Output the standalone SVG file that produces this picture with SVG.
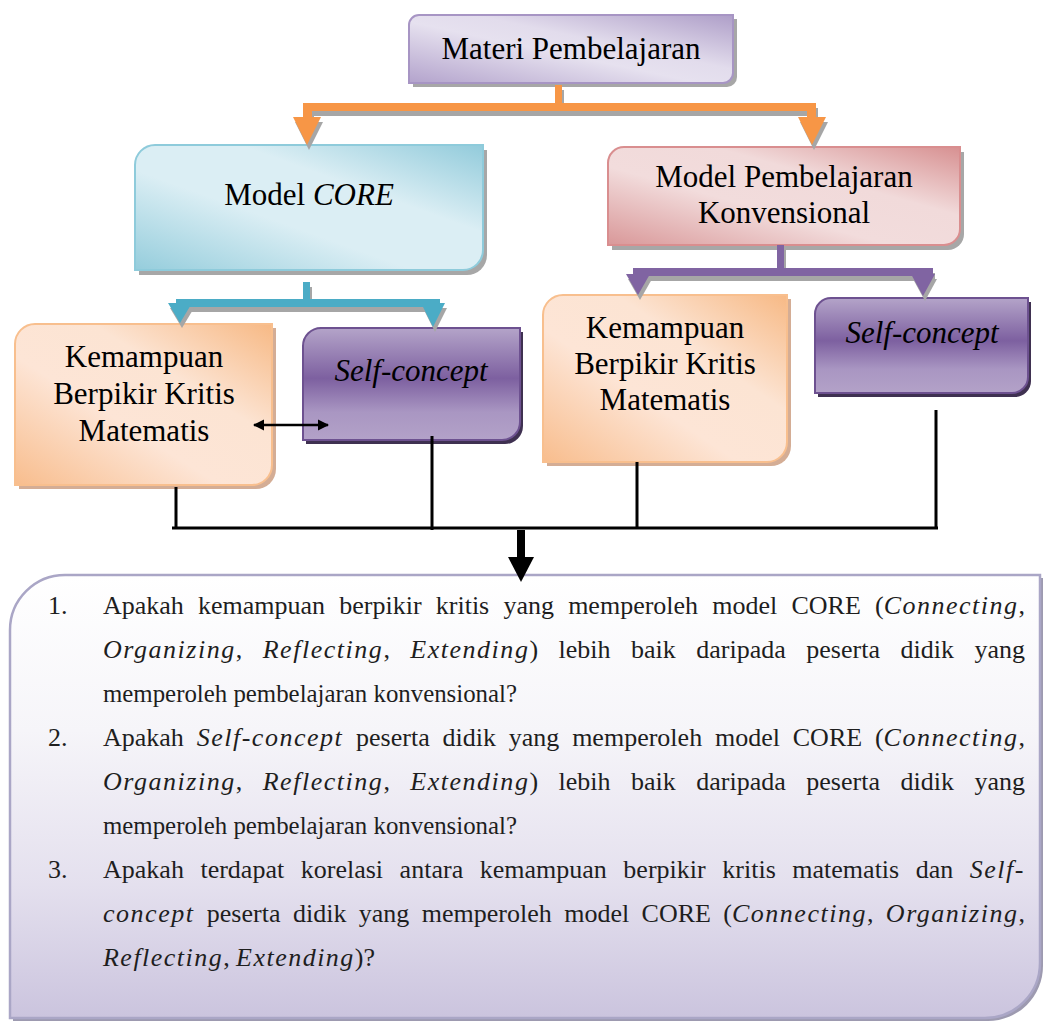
<svg xmlns="http://www.w3.org/2000/svg" width="1045" height="1023" viewBox="0 0 1045 1023">
<style>
.lbl{font-family:"Liberation Serif","Times New Roman",serif;font-size:31px;fill:#000;text-anchor:middle}
.it{font-style:italic}
.q{font-family:"Liberation Serif","Times New Roman",serif;font-size:26px;fill:#1e1e1e}
.q .it{letter-spacing:1.5px}
.num{font-family:"Liberation Serif","Times New Roman",serif;font-size:26px;fill:#1e1e1e}
.blk{stroke:#000;stroke-width:3;fill:none}
.shadow{fill:#8a8a8a;opacity:0.75}
</style>
<defs>
<linearGradient id="gPurpleLight" x1="0" y1="1" x2="1" y2="0">
<stop offset="0" stop-color="#b3a3cc"/><stop offset="0.45" stop-color="#e6e1ef"/><stop offset="0.6" stop-color="#e2dcec"/><stop offset="1" stop-color="#ae9ec8"/>
</linearGradient>
<linearGradient id="gCyan" x1="0" y1="1" x2="1" y2="0">
<stop offset="0" stop-color="#95cddc"/><stop offset="0.4" stop-color="#dbeef4"/><stop offset="0.65" stop-color="#dbeef4"/><stop offset="1" stop-color="#92cbdb"/>
</linearGradient>
<linearGradient id="gPink" x1="0" y1="1" x2="1" y2="0">
<stop offset="0" stop-color="#d99899"/><stop offset="0.4" stop-color="#f2dcdc"/><stop offset="0.65" stop-color="#f1dada"/><stop offset="1" stop-color="#d79091"/>
</linearGradient>
<linearGradient id="gOrange" x1="0" y1="1" x2="1" y2="0">
<stop offset="0" stop-color="#f8bd8d"/><stop offset="0.4" stop-color="#fde5d6"/><stop offset="0.65" stop-color="#fce4d3"/><stop offset="1" stop-color="#f7b985"/>
</linearGradient>
<linearGradient id="gViolet" x1="0" y1="0" x2="0" y2="1">
<stop offset="0" stop-color="#b4a4c9"/><stop offset="0.45" stop-color="#7d60a0"/><stop offset="0.75" stop-color="#a996c2"/><stop offset="1" stop-color="#b3a2c8"/>
</linearGradient>
<linearGradient id="gBottom" x1="0" y1="0" x2="0" y2="1">
<stop offset="0" stop-color="#ffffff"/><stop offset="0.35" stop-color="#f6f5f9"/><stop offset="0.7" stop-color="#e4e0ee"/><stop offset="1" stop-color="#cbc4de"/>
</linearGradient>
<g id="cOrange">
<rect x="555" y="85" width="7" height="22"/>
<rect x="303" y="103" width="513" height="8"/>
<rect x="303" y="103" width="9" height="15"/>
<rect x="807" y="103" width="9" height="15"/>
<polygon points="293,117 321,117 307,145"/>
<polygon points="798,117 826,117 812,145"/>
</g>
<g id="cTeal">
<rect x="303" y="282" width="7" height="21"/>
<rect x="176" y="299" width="264" height="8"/>
<polygon points="168,303 192,303 180,323"/>
<polygon points="421,303 445,303 433,327"/>
</g>
<g id="cPurple">
<rect x="777" y="245" width="7" height="27"/>
<rect x="633" y="268" width="300" height="8"/>
<polygon points="626,274 650,274 638,295"/>
<polygon points="911,274 935,274 923,296"/>
</g>
<marker id="ah" viewBox="0 0 10 10" refX="9" refY="5" markerWidth="4.5" markerHeight="4.5" orient="auto-start-reverse">
<path d="M0,0 L10,5 L0,10 Z" fill="#000"/>
</marker>
</defs>

<g id="node-materi">
<path class="shadow" transform="translate(4,4)" d="M419,15 H733 V73 A10,10 0 0 1 723,83 H409 V25 A10,10 0 0 1 419,15 Z"/>
<path d="M419,15 H733 V73 A10,10 0 0 1 723,83 H409 V25 A10,10 0 0 1 419,15 Z" fill="url(#gPurpleLight)" stroke="#a795c4" stroke-width="2"/>
<text class="lbl" x="571" y="59">Materi Pembelajaran</text>
</g>

<g id="node-core">
<path class="shadow" transform="translate(4,5)" d="M155,145 H483 V250 A20,20 0 0 1 463,270 H135 V165 A20,20 0 0 1 155,145 Z"/>
<path d="M155,145 H483 V250 A20,20 0 0 1 463,270 H135 V165 A20,20 0 0 1 155,145 Z" fill="url(#gCyan)" stroke="#8ecbdb" stroke-width="2"/>
<text class="lbl" x="309" y="205">Model <tspan class="it">CORE</tspan></text>
</g>

<g id="node-konvensional">
<path class="shadow" transform="translate(4,5)" d="M624,147 H960 V229 A16,16 0 0 1 944,245 H608 V163 A16,16 0 0 1 624,147 Z"/>
<path d="M624,147 H960 V229 A16,16 0 0 1 944,245 H608 V163 A16,16 0 0 1 624,147 Z" fill="url(#gPink)" stroke="#d98e8f" stroke-width="2"/>
<text class="lbl" x="784" y="187">Model Pembelajaran</text>
<text class="lbl" x="784" y="223">Konvensional</text>
</g>

<g id="node-kbk1">
<path class="shadow" transform="translate(4,4)" d="M35,324 H272 V465 A20,20 0 0 1 252,485 H15 V344 A20,20 0 0 1 35,324 Z" style="fill:#c9997a;opacity:0.8"/>
<path d="M35,324 H272 V465 A20,20 0 0 1 252,485 H15 V344 A20,20 0 0 1 35,324 Z" fill="url(#gOrange)" stroke="#f8bf8e" stroke-width="2"/>
<text class="lbl" x="144" y="367">Kemampuan</text>
<text class="lbl" x="144" y="404">Berpikir Kritis</text>
<text class="lbl" x="144" y="441">Matematis</text>
</g>

<g id="node-sc1">
<path transform="translate(3,4)" d="M321,328 H520 V422 A18,18 0 0 1 502,440 H303 V346 A18,18 0 0 1 321,328 Z" fill="#3f3151"/>
<path d="M321,328 H520 V422 A18,18 0 0 1 502,440 H303 V346 A18,18 0 0 1 321,328 Z" fill="url(#gViolet)" stroke="#6d5190" stroke-width="2"/>
<text class="lbl it" x="411" y="381">Self-concept</text>
</g>

<g id="node-kbk2">
<path class="shadow" transform="translate(4,4)" d="M563,295 H787 V442 A20,20 0 0 1 767,462 H543 V315 A20,20 0 0 1 563,295 Z" style="fill:#c9997a;opacity:0.8"/>
<path d="M563,295 H787 V442 A20,20 0 0 1 767,462 H543 V315 A20,20 0 0 1 563,295 Z" fill="url(#gOrange)" stroke="#f8bf8e" stroke-width="2"/>
<text class="lbl" x="665" y="338">Kemampuan</text>
<text class="lbl" x="665" y="374">Berpikir Kritis</text>
<text class="lbl" x="665" y="410">Matematis</text>
</g>

<g id="node-sc2">
<path transform="translate(3,4)" d="M831,298 H1028 V377 A16,16 0 0 1 1012,393 H815 V314 A16,16 0 0 1 831,298 Z" fill="#3f3151"/>
<path d="M831,298 H1028 V377 A16,16 0 0 1 1012,393 H815 V314 A16,16 0 0 1 831,298 Z" fill="url(#gViolet)" stroke="#6d5190" stroke-width="2"/>
<text class="lbl it" x="922" y="343">Self-concept</text>
</g>

<g id="node-questions">
<path transform="translate(3,3)" d="M65,575 H1040 V963 A55,55 0 0 1 985,1018 H10 V630 A55,55 0 0 1 65,575 Z" fill="#9d9ab0"/>
<path d="M65,575 H1040 V963 A55,55 0 0 1 985,1018 H10 V630 A55,55 0 0 1 65,575 Z" fill="url(#gBottom)" stroke="#aaa6c6" stroke-width="2.5"/>
<text class="num" x="48" y="614">1.</text>
<text class="q" x="103" y="614" word-spacing="7.7" textLength="922" lengthAdjust="spacing">Apakah kemampuan berpikir kritis yang memperoleh model CORE (<tspan class="it">Connecting</tspan>,</text>
<text class="q" x="103" y="658" word-spacing="13.8" textLength="922" lengthAdjust="spacing"><tspan class="it">Organizing</tspan>, <tspan class="it">Reflecting</tspan>, <tspan class="it">Extending</tspan>) lebih baik daripada peserta didik yang</text>
<text class="q" x="103" y="702" textLength="414" lengthAdjust="spacingAndGlyphs">memperoleh pembelajaran konvensional?</text>
<text class="num" x="48" y="746">2.</text>
<text class="q" x="103" y="746" word-spacing="6.3" textLength="922" lengthAdjust="spacing">Apakah <tspan class="it">Self-concept</tspan> peserta didik yang memperoleh model CORE (<tspan class="it">Connecting</tspan>,</text>
<text class="q" x="103" y="790" word-spacing="13.8" textLength="922" lengthAdjust="spacing"><tspan class="it">Organizing</tspan>, <tspan class="it">Reflecting</tspan>, <tspan class="it">Extending</tspan>) lebih baik daripada peserta didik yang</text>
<text class="q" x="103" y="834" textLength="414" lengthAdjust="spacingAndGlyphs">memperoleh pembelajaran konvensional?</text>
<text class="num" x="48" y="878">3.</text>
<text class="q" x="103" y="878" word-spacing="10" textLength="922" lengthAdjust="spacing">Apakah terdapat korelasi antara kemampuan berpikir kritis matematis dan <tspan class="it">Self-</tspan></text>
<text class="q" x="103" y="922" word-spacing="5.8" textLength="922" lengthAdjust="spacing"><tspan class="it">concept</tspan> peserta didik yang memperoleh model CORE (<tspan class="it">Connecting</tspan>, <tspan class="it">Organizing</tspan>,</text>
<text class="q" x="103" y="966" textLength="272" lengthAdjust="spacing"><tspan class="it">Reflecting</tspan>, <tspan class="it">Extending</tspan>)?</text>
</g>

<g id="connectors">
<use href="#cOrange" transform="translate(2,5)" fill="#a6a6a6"/>
<use href="#cOrange" fill="#f79646"/>
<use href="#cTeal" transform="translate(2,5)" fill="#a6a6a6"/>
<use href="#cTeal" fill="#4bacc6"/>
<use href="#cPurple" transform="translate(2,5)" fill="#a6a6a6"/>
<use href="#cPurple" fill="#8064a2"/>
<line x1="254" y1="425" x2="328" y2="425" stroke="#000" stroke-width="2.5" marker-start="url(#ah)" marker-end="url(#ah)"/>
<path class="blk" d="M176,487 V528 M432,436 V530 M637,462 V528 M936,410 V528 M172,528 H938"/>
<rect x="517" y="530" width="8" height="28" fill="#000"/>
<polygon points="508,557 534,557 521,582" fill="#000"/>
</g>
</svg>
